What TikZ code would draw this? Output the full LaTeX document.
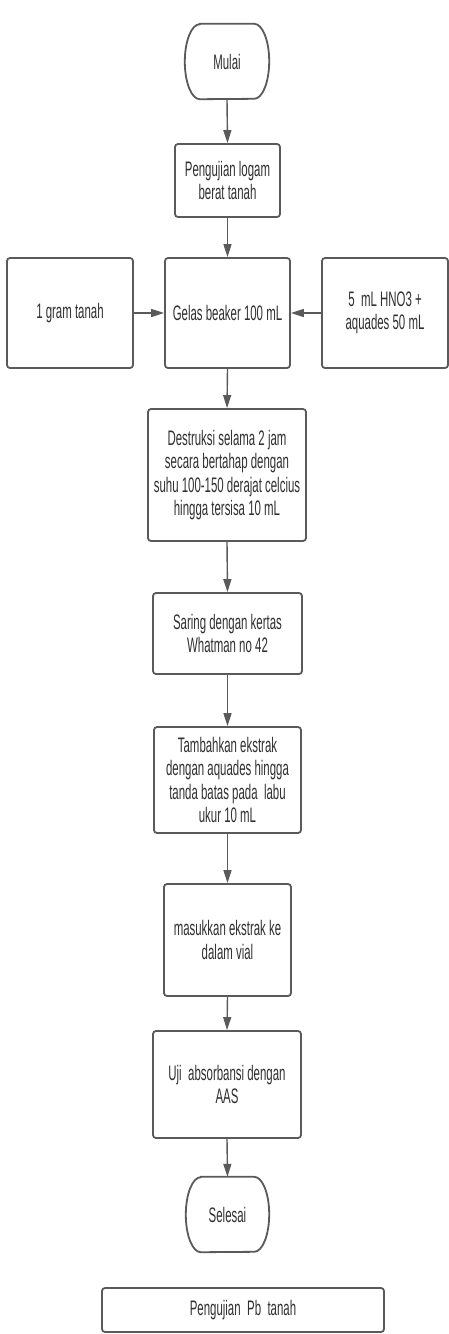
\documentclass[tikz,border=0pt]{standalone}
\usepackage{fontspec}
\setmainfont{Liberation Sans}[FakeStretch=0.545]
\usetikzlibrary{arrows.meta}
\definecolor{ln}{HTML}{5A5A5A}
\definecolor{tx}{HTML}{303030}
\newcommand{\dsp}{\hspace{6.4pt}}
\begin{document}
\begin{tikzpicture}[x=1pt,y=-1pt,
  txt/.style={align=center, inner sep=0pt, text=tx, font=\fontsize{21}{23.3}\selectfont},
  box/.style={txt, draw=ln, line width=1.8pt, rounded corners=3pt},
  term/.style={txt},
  termline/.style={draw=ln, line width=1.8pt},
  arr/.style={draw=ln, line width=1.4pt, -{Triangle[length=13pt,width=8pt]}}]
\useasboundingbox (0,0) rectangle (449,1334);
\fill[white] (0,0) rectangle (449,1334);

\node[term, minimum width=84pt, minimum height=75pt] (mulai) at (227,61.5) {Mulai};
\node[box, minimum width=105pt, minimum height=73pt] (peng) at (227.5,180.5) {Pengujian logam\\berat tanah};
\node[box, minimum width=125pt, minimum height=110pt] (gelas) at (227.5,313) {Gelas beaker 100 mL};
\node[box, minimum width=126pt, minimum height=110pt] (gram) at (70,313) {1 gram tanah};
\node[box, minimum width=126pt, minimum height=110pt] (hno) at (385,313) {5\dsp mL HNO3 +\\aquades 50 mL};
\node[box, minimum width=158pt, minimum height=132pt] (destr) at (227,475) {Destruksi selama 2 jam\\secara bertahap dengan\\suhu 100-150 derajat celcius\\hingga tersisa 10 mL};
\node[box, minimum width=149pt, minimum height=81pt] (saring) at (227.5,633.5) {Saring dengan kertas\\Whatman no 42};
\node[box, minimum width=147pt, minimum height=106pt] (tamb) at (227.5,780) {Tambahkan ekstrak\\dengan aquades hingga\\tanda batas pada\dsp labu\\ukur 10 mL};
\node[box, minimum width=127pt, minimum height=112pt] (masuk) at (227.5,940) {masukkan ekstrak ke\\dalam vial};
\node[box, minimum width=148pt, minimum height=107pt] (uji) at (227,1084.5) {Uji\dsp absorbansi dengan\\AAS};
\node[term, minimum width=83pt, minimum height=75pt] (selesai) at (227.5,1214.5) {Selesai};
\node[box, minimum width=282pt, minimum height=44pt] (pb) at (243,1310) {Pengujian\dsp Pb\dsp tanah};

\foreach \t in {mulai,selesai}{
  \draw[termline] ([xshift=15pt]\t.north west) -- ([xshift=-15pt]\t.north east)
    arc[start angle=90, end angle=-90, x radius=15pt, y radius=37.5pt]
    -- ([xshift=15pt]\t.south west)
    arc[start angle=270, end angle=90, x radius=15pt, y radius=37.5pt] -- cycle;
}

\draw[arr] (mulai.south) -- (peng.north);
\draw[arr] (peng.south) -- (gelas.north);
\draw[arr] (gram.east) -- (gelas.west);
\draw[arr] (hno.west) -- (gelas.east);
\draw[arr] (gelas.south) -- (destr.north);
\draw[arr] (destr.south) -- (saring.north);
\draw[arr] (saring.south) -- (tamb.north);
\draw[arr] (tamb.south) -- (masuk.north);
\draw[arr] (masuk.south) -- (uji.north);
\draw[arr] (uji.south) -- (selesai.north);
\end{tikzpicture}
\end{document}
